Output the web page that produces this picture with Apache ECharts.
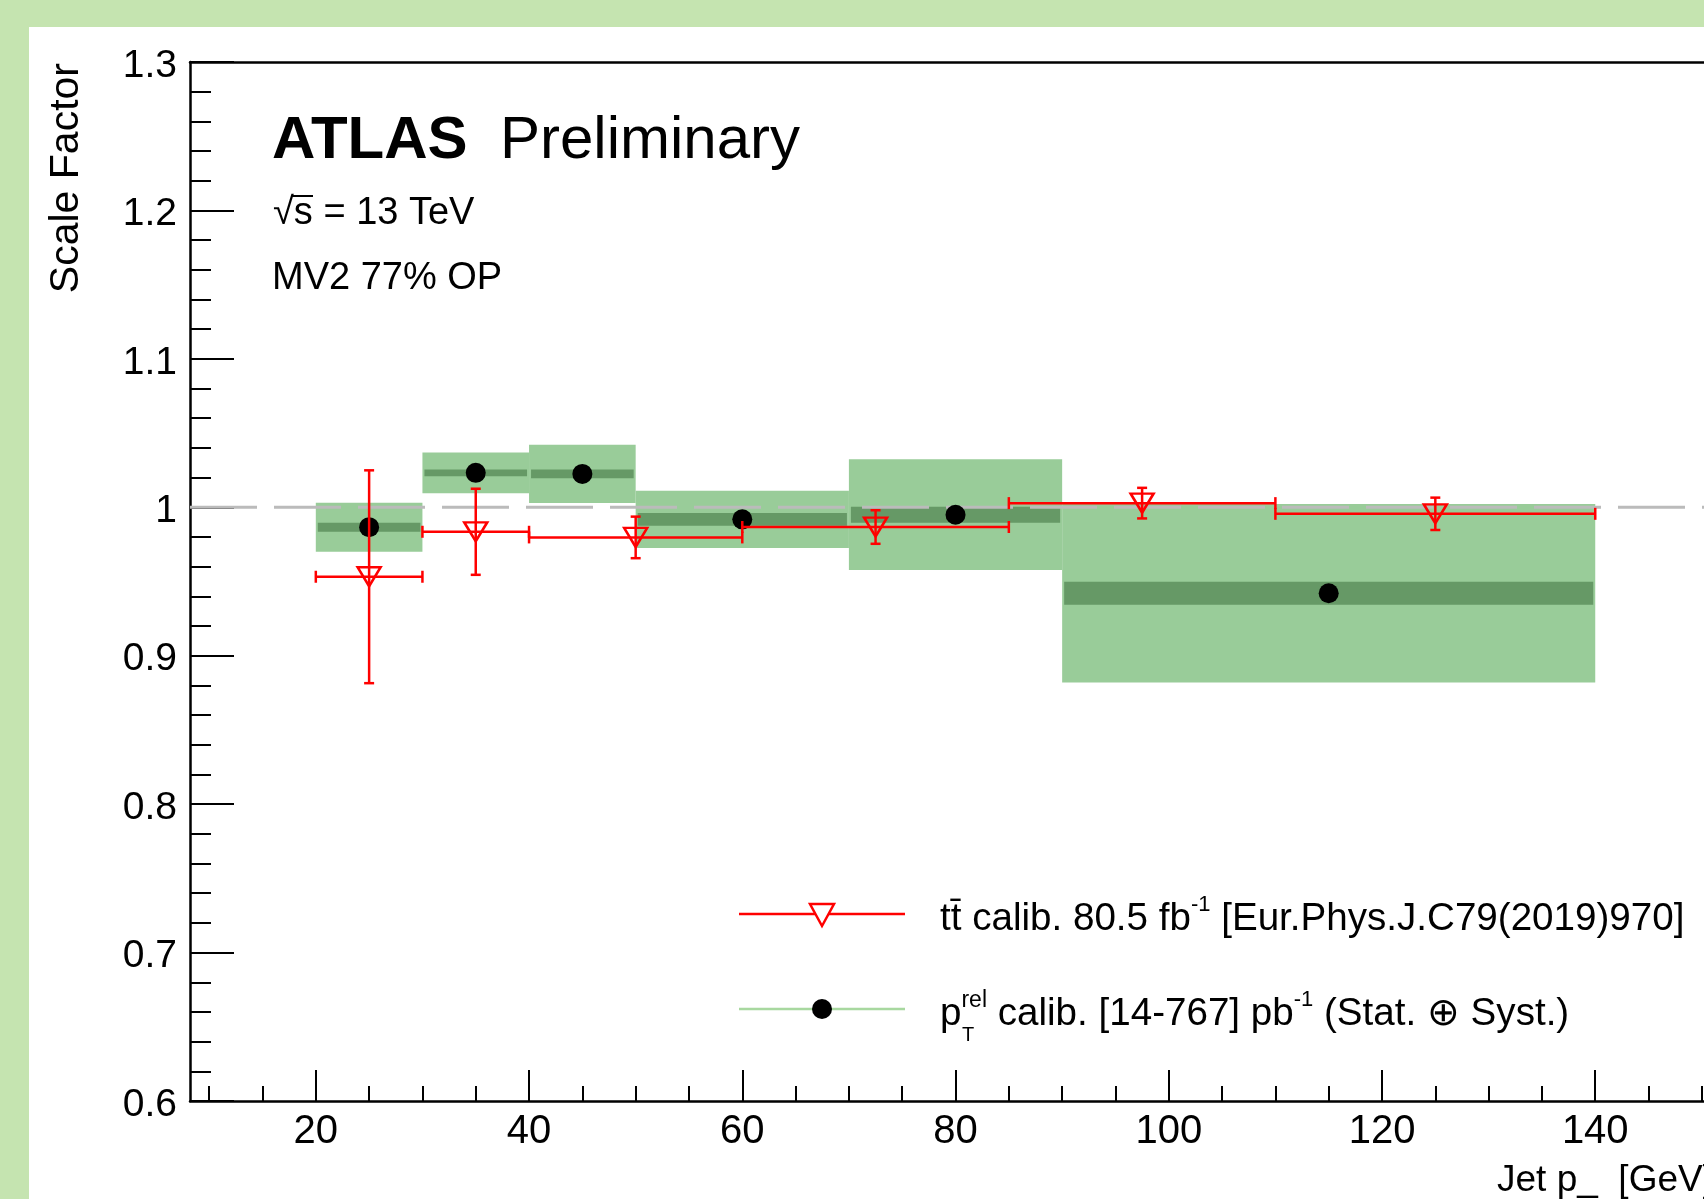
<!DOCTYPE html>
<html lang="en">
<head>
  <meta charset="UTF-8">
  <title>Scale Factor vs Jet pT</title>
  <style>
    * { margin: 0; padding: 0; }
    html, body { width: 100%; height: 100%; overflow: hidden; }
    #chart { width: 1704px; height: 1199px; }
  </style>
</head>
<body>
  <div id="chart"></div>
  <script src="https://cdn.jsdelivr.net/npm/echarts@6.0.0/dist/echarts.min.js"></script>
  <script>
    // pT-rel calibration: green boxes (total / stat error) + black dots
    var ptrelLow = [20, 30, 40, 50, 70, 90];
    var ptrelHigh = [30, 40, 50, 70, 90, 140];
    var ptrelCenter = [25, 35, 45, 60, 80, 115];
    var ptrelSF = [0.9866, 1.0232, 1.0225, 0.9919, 0.9950, 0.9421];
    var ptrelTotErr = [0.0165, 0.0137, 0.0196, 0.0193, 0.0373, 0.0601];
    var ptrelStatErr = [0.0030, 0.0023, 0.0030, 0.0043, 0.0054, 0.0078];

    // ttbar calibration: red open triangles with error bars
    var ttLow = [20, 30, 40, 60, 85, 110];
    var ttHigh = [30, 40, 60, 85, 110, 140];
    var ttCenter = [25, 35, 50, 72.5, 97.5, 125];
    var ttSF = [0.9532, 0.9835, 0.9797, 0.9867, 1.0028, 0.9956];
    var ttErr = [0.0717, 0.0290, 0.0140, 0.0113, 0.0103, 0.0109];

    // axes (the frame runs past the right edge of the picture)
    var xMin = 8.2, xMax = 150.2;
    var yMin = 0.6, yMax = 1.3;
    var xMajorTicks = [20, 40, 60, 80, 100, 120, 140];
    var xMinorTicks = [10, 15, 25, 30, 35, 45, 50, 55, 65, 70, 75, 85, 90, 95,
                       105, 110, 115, 125, 130, 135, 145, 150];
    var refLine = 1;

    var FONT = '"Liberation Sans", Arial, Helvetica, sans-serif';
    var RED = '#ff0000';

    var chart = echarts.init(document.getElementById('chart'), null, { renderer: 'canvas' });

    function renderBox(params, api) {
      var lo = api.value(0), hi = api.value(1), sf = api.value(2);
      var tot = api.value(3), st = api.value(4);
      var a = api.coord([lo, sf + tot]), b = api.coord([hi, sf - tot]);
      var c = api.coord([lo, sf + st]), d = api.coord([hi, sf - st]);
      return {
        type: 'group',
        children: [
          { type: 'rect', shape: { x: a[0], y: a[1], width: b[0] - a[0], height: b[1] - a[1] },
            style: { fill: '#99cc99' } },
          { type: 'rect', shape: { x: c[0] + 2, y: c[1], width: d[0] - c[0] - 4, height: d[1] - c[1] },
            style: { fill: '#669966' } }
        ]
      };
    }

    function renderErr(params, api) {
      var lo = api.value(0), hi = api.value(1), xc = api.value(2);
      var sf = api.value(3), e = api.value(4);
      var L = api.coord([lo, sf]), R = api.coord([hi, sf]);
      var T = api.coord([xc, sf + e]), B = api.coord([xc, sf - e]);
      var st = { stroke: RED, lineWidth: 2.5 };
      function seg(x1, y1, x2, y2) {
        return { type: 'line', shape: { x1: x1, y1: y1, x2: x2, y2: y2 }, style: st };
      }
      return {
        type: 'group',
        children: [
          seg(L[0], L[1], R[0], R[1]),
          seg(L[0], L[1] - 6, L[0], L[1] + 6),
          seg(R[0], R[1] - 6, R[0], R[1] + 6),
          seg(T[0], T[1], B[0], B[1]),
          seg(T[0] - 5, T[1], T[0] + 5, T[1]),
          seg(B[0] - 5, B[1], B[0] + 5, B[1])
        ]
      };
    }

    function renderRef(params, api) {
      var p = api.coord([api.value(0), api.value(1)]);
      var cs = params.coordSys;
      return {
        type: 'line',
        shape: { x1: cs.x, y1: p[1], x2: cs.x + cs.width, y2: p[1] },
        style: { stroke: '#bbbbbb', lineWidth: 3, lineDash: [67, 17] }
      };
    }

    var boxData = ptrelLow.map(function (lo, i) {
      return [lo, ptrelHigh[i], ptrelSF[i], ptrelTotErr[i], ptrelStatErr[i]];
    });
    var dotData = ptrelCenter.map(function (x, i) { return [x, ptrelSF[i]]; });
    var errData = ttLow.map(function (lo, i) {
      return [lo, ttHigh[i], ttCenter[i], ttSF[i], ttErr[i]];
    });
    var triData = ttCenter.map(function (x, i) { return [x, ttSF[i]]; });

    var txt = function (text, x, y, size, extra) {
      var s = { text: text, x: 0, y: 0, fill: '#000', font: size + 'px ' + FONT,
                align: 'left', verticalAlign: 'middle' };
      for (var k in extra || {}) s[k] = extra[k];
      return { type: 'text', x: x, y: y, z: 100, style: s };
    };

    var option = {
      animation: false,
      backgroundColor: '#c5e4b0',
      grid: { left: 190, top: 62, right: 0, bottom: 98 },
      xAxis: [{
        type: 'value', min: xMin, max: xMax, position: 'bottom',
        axisLine: { onZero: false, lineStyle: { color: '#000', width: 2.5 } },
        axisTick: { customValues: xMajorTicks, inside: true, length: 31, lineStyle: { color: '#000', width: 2 } },
        axisLabel: { customValues: xMajorTicks, color: '#000', fontSize: 40, fontFamily: FONT, margin: 11 },
        splitLine: { show: false }
      }, {
        type: 'value', min: xMin, max: xMax, position: 'bottom',
        axisLine: { show: false, onZero: false },
        axisTick: { customValues: xMinorTicks, inside: true, length: 15, lineStyle: { color: '#000', width: 2 } },
        axisLabel: { show: false },
        splitLine: { show: false }
      }, {
        // top frame line only
        type: 'value', min: xMin, max: xMax, position: 'top',
        axisLine: { onZero: false, lineStyle: { color: '#000', width: 2.5 } },
        axisTick: { show: false }, axisLabel: { show: false }, splitLine: { show: false }
      }],
      yAxis: {
        type: 'value', min: yMin, max: yMax, interval: 0.1,
        axisLine: { onZero: false, lineStyle: { color: '#000', width: 2.5 } },
        axisTick: { inside: true, length: 44, lineStyle: { color: '#000', width: 2 } },
        minorTick: { show: true, splitNumber: 5, length: 21, lineStyle: { color: '#000', width: 2 } },
        axisLabel: { color: '#000', fontSize: 39, fontFamily: FONT, margin: 13,
                     verticalAlign: 'top', lineHeight: 8 },
        splitLine: { show: false }
      },
      series: [{
        type: 'custom', name: 'ptrel boxes', z: 1,
        renderItem: renderBox, encode: { x: [0, 1], y: 2 }, data: boxData
      }, {
        type: 'custom', name: 'ref', z: 2,
        renderItem: renderRef, encode: { x: 0, y: 1 }, data: [[xMin, refLine]]
      }, {
        type: 'scatter', name: 'ptrel', z: 3,
        symbol: 'circle', symbolSize: 20, itemStyle: { color: '#000', opacity: 1 },
        data: dotData
      }, {
        type: 'custom', name: 'tt errors', z: 4,
        renderItem: renderErr, encode: { x: [0, 1, 2], y: 3 }, data: errData
      }, {
        type: 'scatter', name: 'tt', z: 5,
        symbol: 'triangle', symbolRotate: 180, symbolSize: [23, 19],
        itemStyle: { color: 'rgba(0,0,0,0)', borderColor: RED, borderWidth: 2.5, opacity: 1 },
        data: triData
      }],
      graphic: [
        { type: 'rect', z: -10, shape: { x: 29, y: 27, width: 1704, height: 1199 }, style: { fill: '#fff' } },
        // y title
        { type: 'text', x: 67, y: 63, rotation: Math.PI / 2, z: 100,
          style: { text: 'Scale Factor', fill: '#000', font: '41px ' + FONT, align: 'right', verticalAlign: 'middle' } },
        // x title (cut off at the right edge)
        txt('Jet p_  [GeV]', 1497, 1181, 37),
        // ATLAS label
        txt('ATLAS', 272, 141, 60, { font: 'bold 60px ' + FONT }),
        txt('Preliminary', 500, 141, 60),
        txt('\u221As = 13 TeV', 273, 214, 38),
        { type: 'line', z: 100, shape: { x1: 291, y1: 196, x2: 313, y2: 196 }, style: { stroke: '#000', lineWidth: 2 } },
        txt('MV2 77% OP', 272, 279, 38),
        // legend entry 1
        { type: 'line', z: 100, shape: { x1: 739, y1: 914, x2: 905, y2: 914 }, style: { stroke: RED, lineWidth: 2.5 } },
        { type: 'polygon', z: 101, shape: { points: [[810, 904], [834, 904], [822, 926]] },
          style: { fill: '#fff', stroke: RED, lineWidth: 2.5 } },
        { type: 'text', x: 940, y: 919, z: 100, style: {
            text: '{m|tt\u0304 calib. 80.5 fb}{sup|-1}{m| [Eur.Phys.J.C79(2019)970]}',
            verticalAlign: 'middle', align: 'left',
            rich: {
              m: { fontSize: 38.6, fontFamily: FONT, lineHeight: 50, fill: '#000' },
              sup: { fontSize: 22, fontFamily: FONT, lineHeight: 32, verticalAlign: 'top', fill: '#000' }
            } } },
        // legend entry 2
        { type: 'line', z: 100, shape: { x1: 739, y1: 1009, x2: 905, y2: 1009 }, style: { stroke: '#a8d8a0', lineWidth: 2.5 } },
        { type: 'circle', z: 101, shape: { cx: 822, cy: 1009, r: 10 }, style: { fill: '#000' } },
        { type: 'text', x: 940, y: 1014, z: 100, style: {
            text: '{m|p}{rel|rel}{m| calib. [14-767] pb}{sup|-1}{m| (Stat. \u2295 Syst.)}',
            verticalAlign: 'middle', align: 'left',
            rich: {
              m: { fontSize: 38.6, fontFamily: FONT, lineHeight: 50, fill: '#000' },
              rel: { fontSize: 23, fontFamily: FONT, lineHeight: 24, verticalAlign: 'top', fill: '#000' },
              sup: { fontSize: 22, fontFamily: FONT, lineHeight: 32, verticalAlign: 'top', fill: '#000' }
            } } },
        txt('T', 962, 1035, 20)
      ]
    };

    chart.setOption(option);
  </script>
</body>
</html>
